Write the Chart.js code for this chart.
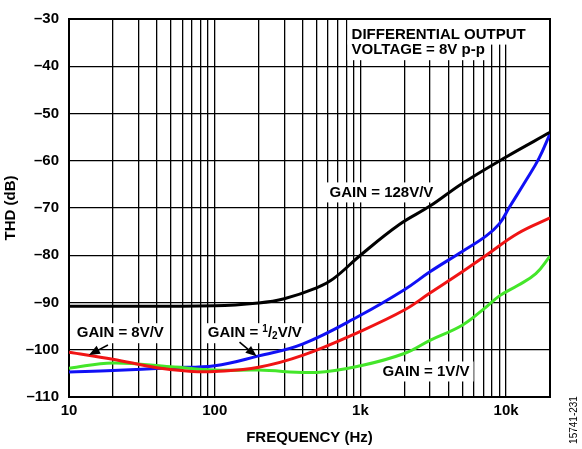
<!DOCTYPE html>
<html>
<head>
<meta charset="utf-8">
<script src="https://cdn.jsdelivr.net/npm/chart.js@4/dist/chart.umd.min.js"></script>
<style>
html, body { margin: 0; padding: 0; background: #fff; }
canvas { display: block; }
</style>
</head>
<body>
<canvas id="thd" width="582" height="449"></canvas>
<script>
// THD vs frequency, differential output 8V p-p

var blackFreq = [10, 100, 200, 300, 500, 650, 1000, 1850, 3000, 5000, 10000, 20000];
var blackThd = [-90.8, -90.7, -90.1, -89.2, -86.9, -85.0, -80.0, -73.5, -69.6, -64.8, -59.2, -54.0];

var blueFreq = [10, 20, 50, 100, 200, 400, 1000, 2000, 3000, 5000, 7300, 9000, 10500, 13600, 16800, 20000];
var blueThd = [-104.7, -104.4, -103.8, -103.4, -101.3, -98.8, -92.7, -87.3, -83.5, -79.2, -75.9, -73.3, -69.9, -64.3, -59.5, -54.3];

var redFreq = [10, 20, 40, 70, 100, 200, 400, 1000, 2000, 3000, 5000, 7300, 12000, 20000];
var redThd = [-100.5, -102.0, -103.8, -104.6, -104.6, -103.7, -101.2, -96.1, -91.6, -88.0, -83.5, -80.0, -75.4, -72.1];

var greenFreq = [10, 20, 50, 100, 200, 500, 1000, 2000, 3000, 5000, 7000, 9000, 12000, 16000, 20000];
var greenThd = [-103.9, -102.8, -103.6, -104.3, -104.3, -104.8, -103.4, -100.8, -98.0, -94.8, -91.4, -88.6, -86.4, -83.9, -80.2];

var xGrid = [10, 20, 30, 40, 50, 60, 70, 80, 90,
             100, 200, 300, 400, 500, 600, 700, 800, 900,
             1000, 2000, 3000, 4000, 5000, 6000, 7000, 8000, 9000,
             10000, 20000];
var xLabels = {10: '10', 100: '100', 1000: '1k', 10000: '10k'};
var yTicks = [-110, -100, -90, -80, -70, -60, -50, -40, -30];

var fontFamily = "'Liberation Sans', Arial, Helvetica, sans-serif";
Chart.defaults.font.family = fontFamily;
Chart.defaults.color = '#000';

function points(freq, thd) {
    return freq.map(function (f, i) { return {x: f, y: thd[i]}; });
}

function series(label, freq, thd, color) {
    return {
        label: label,
        data: points(freq, thd),
        borderColor: color,
        backgroundColor: color,
        borderWidth: 3,
        pointRadius: 0,
        tension: 0.4,
        fill: false
    };
}

// text notes, anchored in data units (freq, dB) = left edge / vertical centre
var notes = [
    {f: 870, db: -33.3, parts: [{t: 'DIFFERENTIAL OUTPUT'}], toTop: true},
    {f: 870, db: -36.6, parts: [{t: 'VOLTAGE = 8V p-p'}]},
    {f: 614, db: -66.7, parts: [{t: 'GAIN = 128V/V'}]},
    {f: 11.3, db: -96.5, parts: [{t: 'GAIN = 8V/V'}]},
    {f: 89.6, db: -96.5, parts: [{t: 'GAIN = '}, {t: '1', sup: true}, {t: '/'}, {t: '2', sub: true}, {t: 'V/V'}]},
    {f: 1416, db: -104.6, parts: [{t: 'GAIN = 1V/V'}]}
];

var arrows = [
    {f1: 18.5, db1: -99.0, f2: 13.7, db2: -101.1},
    {f1: 148, db1: -98.4, f2: 194, db2: -101.4}
];

var noteFont = 'bold 15px ' + fontFamily;
var smallFont = 'bold 10px ' + fontFamily;

function partFont(p) { return (p.sup || p.sub) ? smallFont : noteFont; }

var notesPlugin = {
    id: 'notes',
    beforeDatasetsDraw: function (chart) {
        var ctx = chart.ctx, xs = chart.scales.x, ys = chart.scales.y, area = chart.chartArea;
        ctx.save();
        notes.forEach(function (n) {
            var x = xs.getPixelForValue(n.f), y = ys.getPixelForValue(n.db);
            var w = 0;
            n.parts.forEach(function (p) { ctx.font = partFont(p); w += ctx.measureText(p.t).width; });
            var top = n.toTop ? area.top + 1 : y - 10;
            ctx.fillStyle = '#fff';
            ctx.fillRect(x - 4, top, w + 8, y + 10 - top);
        });
        notes.forEach(function (n) {
            var x = xs.getPixelForValue(n.f), y = ys.getPixelForValue(n.db);
            ctx.fillStyle = '#000';
            ctx.textBaseline = 'middle';
            ctx.textAlign = 'left';
            n.parts.forEach(function (p) {
                ctx.font = partFont(p);
                var dy = p.sup ? -4 : (p.sub ? 3 : 0);
                ctx.fillText(p.t, x, y + dy);
                x += ctx.measureText(p.t).width;
            });
        });
        // plot frame
        ctx.strokeStyle = '#000';
        ctx.lineWidth = 2;
        ctx.strokeRect(area.left, area.top, area.right - area.left, area.bottom - area.top);
        ctx.restore();
    },
    afterDatasetsDraw: function (chart) {
        var ctx = chart.ctx, xs = chart.scales.x, ys = chart.scales.y;
        ctx.save();
        ctx.strokeStyle = '#000';
        ctx.fillStyle = '#000';
        arrows.forEach(function (a) {
            var x1 = xs.getPixelForValue(a.f1), y1 = ys.getPixelForValue(a.db1);
            var x2 = xs.getPixelForValue(a.f2), y2 = ys.getPixelForValue(a.db2);
            var ang = Math.atan2(y2 - y1, x2 - x1);
            var len = 11, half = 4.5;
            var bx = x2 - len * Math.cos(ang), by = y2 - len * Math.sin(ang);
            ctx.lineWidth = 1.6;
            ctx.beginPath();
            ctx.moveTo(x1, y1);
            ctx.lineTo(bx, by);
            ctx.stroke();
            ctx.beginPath();
            ctx.moveTo(x2, y2);
            ctx.lineTo(bx + half * Math.sin(ang), by - half * Math.cos(ang));
            ctx.lineTo(bx - half * Math.sin(ang), by + half * Math.cos(ang));
            ctx.closePath();
            ctx.fill();
        });
        ctx.restore();
    },
    afterDraw: function (chart) {
        var ctx = chart.ctx;
        ctx.save();
        ctx.translate(574, 420);
        ctx.rotate(-Math.PI / 2);
        ctx.font = '10px ' + fontFamily;
        ctx.fillStyle = '#000';
        ctx.textAlign = 'center';
        ctx.textBaseline = 'middle';
        ctx.fillText('15741-231', 0, 0);
        ctx.restore();
    }
};

new Chart(document.getElementById('thd'), {
    type: 'line',
    data: {
        datasets: [
            series('GAIN = 128V/V', blackFreq, blackThd, '#000000'),
            series('GAIN = 8V/V', redFreq, redThd, '#f01414'),
            series('GAIN = 1V/V', greenFreq, greenThd, '#44e62a'),
            series('GAIN = 1/2V/V', blueFreq, blueThd, '#1010f5')
        ]
    },
    options: {
        responsive: false,
        animation: false,
        layout: {padding: {top: 11, right: 32, left: 0, bottom: 0}},
        plugins: {
            legend: {display: false},
            tooltip: {enabled: false}
        },
        scales: {
            x: {
                type: 'logarithmic',
                min: 10,
                max: 20000,
                afterBuildTicks: function (s) { s.ticks = xGrid.map(function (v) { return {value: v}; }); },
                afterFit: function (s) { s.height = 52; },
                ticks: {
                    autoSkip: false,
                    maxRotation: 0,
                    padding: 5,
                    color: '#000',
                    font: {size: 15, weight: 'bold'},
                    callback: function (v) { return xLabels[v] || ''; }
                },
                grid: {color: '#000', lineWidth: 1.3, drawTicks: false},
                border: {color: '#000', width: 2},
                title: {
                    display: true,
                    text: 'FREQUENCY (Hz)',
                    color: '#000',
                    font: {size: 15, weight: 'bold'},
                    padding: {top: 0, bottom: 2}
                }
            },
            y: {
                min: -110,
                max: -30,
                afterBuildTicks: function (s) { s.ticks = yTicks.map(function (v) { return {value: v}; }); },
                afterFit: function (s) { s.width = 69; },
                ticks: {
                    padding: 10,
                    color: '#000',
                    font: {size: 15, weight: 'bold'},
                    callback: function (v) { return v < 0 ? '\u2013' + Math.abs(v) : String(v); }
                },
                grid: {color: '#000', lineWidth: 1.3, drawTicks: false},
                border: {color: '#000', width: 2},
                title: {
                    display: true,
                    text: 'THD (dB)',
                    color: '#000',
                    font: {size: 15, weight: 'bold'},
                    padding: {top: 2, bottom: 0}
                }
            }
        }
    },
    plugins: [notesPlugin]
});
</script>
</body>
</html>
